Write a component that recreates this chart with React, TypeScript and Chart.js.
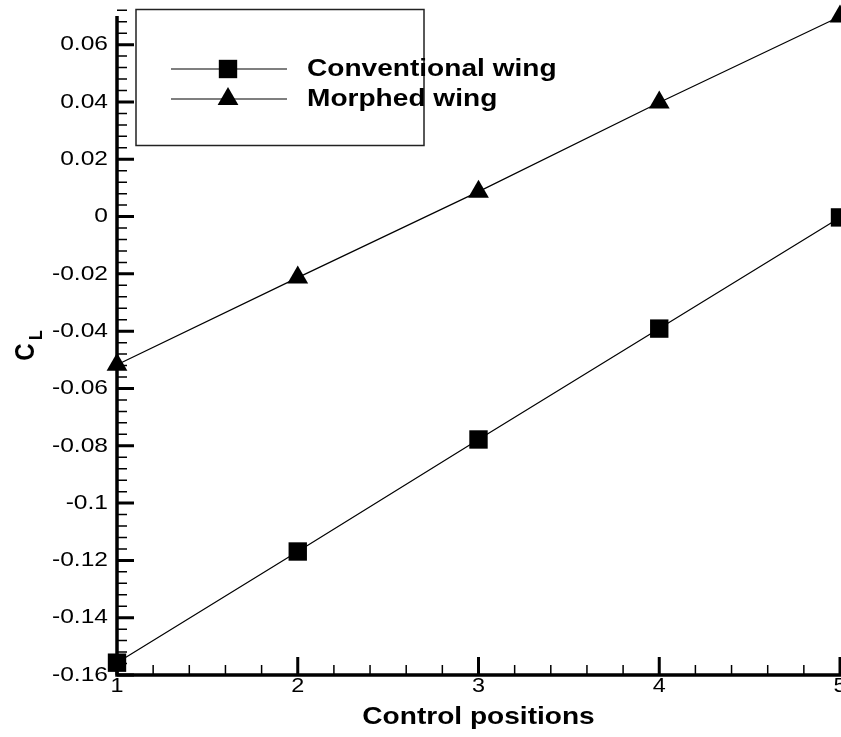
import React, { useEffect, useRef } from "react";
import { Chart, registerables } from "chart.js";

Chart.register(...registerables);

// ---- data ----
const positions = [1, 2, 3, 4, 5];
const conventionalWing = [-0.1557, -0.1169, -0.0778, -0.0391, -0.0003];
const morphedWing = [-0.0517, -0.0213, 0.0087, 0.0398, 0.0698];
const seriesLabels = ["Conventional wing", "Morphed wing"];
const xTickValues = [1, 2, 3, 4, 5];
const yTickValues = [-0.16, -0.14, -0.12, -0.1, -0.08, -0.06, -0.04, -0.02, 0, 0.02, 0.04, 0.06];
const xMinorStep = 0.2;
const yMinorStep = 0.004;
const xTitle = "Control positions";
const yTitleMain = "C";
const yTitleSub = "L";

const FONT = "'Liberation Sans', Arial, Helvetica, sans-serif";
const SX = 1.17; // horizontal text stretch seen in the reference

function fmtY(v: number) {
  return String(Number(v.toFixed(3)));
}

function drawMarker(ctx: CanvasRenderingContext2D, style: string, x: number, y: number, r: number) {
  ctx.beginPath();
  if (style === "rect") {
    const s = Math.SQRT1_2 * r;
    ctx.rect(x - s, y - s, 2 * s, 2 * s);
  } else {
    const w = r * Math.sin((2 * Math.PI) / 3);
    ctx.moveTo(x, y - r);
    ctx.lineTo(x + w, y + r / 2);
    ctx.lineTo(x - w, y + r / 2);
    ctx.closePath();
  }
  ctx.fill();
}

const axesPlugin = {
  id: "tecAxes",
  beforeDatasetsDraw(chart: any) {
    const { ctx, chartArea } = chart;
    const xs = chart.scales.x;
    const ys = chart.scales.y;
    const L = chartArea.left;
    const B = chartArea.bottom;
    const T = chartArea.top;
    const R = chartArea.right;
    ctx.save();
    ctx.strokeStyle = "#000";
    ctx.lineCap = "butt";

    // minor ticks
    ctx.lineWidth = 1.5;
    ctx.beginPath();
    const ny = Math.round((ys.max - ys.min) / yMinorStep);
    for (let i = 0; i <= ny; i++) {
      const v = ys.min + i * yMinorStep;
      if (yTickValues.some((t) => Math.abs(t - v) < 1e-6)) continue;
      const p = ys.getPixelForValue(v);
      ctx.moveTo(L, p);
      ctx.lineTo(L + 10, p);
    }
    const nx = Math.round((xs.max - xs.min) / xMinorStep);
    for (let i = 0; i <= nx; i++) {
      const v = xs.min + i * xMinorStep;
      if (xTickValues.some((t) => Math.abs(t - v) < 1e-6)) continue;
      const p = xs.getPixelForValue(v);
      ctx.moveTo(p, B);
      ctx.lineTo(p, B - 10);
    }
    ctx.stroke();

    // major ticks
    ctx.lineWidth = 3;
    ctx.beginPath();
    yTickValues.forEach((v) => {
      const p = ys.getPixelForValue(v);
      ctx.moveTo(L, p);
      ctx.lineTo(L + 17, p);
    });
    xTickValues.forEach((v) => {
      const p = xs.getPixelForValue(v);
      ctx.moveTo(p, B);
      ctx.lineTo(p, B - 18);
    });
    ctx.stroke();

    // axis lines
    ctx.lineWidth = 3.5;
    ctx.beginPath();
    ctx.moveTo(L, T);
    ctx.lineTo(L, B + 1.75);
    ctx.moveTo(L - 1.75, B);
    ctx.lineTo(R + 2, B);
    ctx.stroke();

    ctx.fillStyle = "#000";

    // tick labels
    ctx.font = `21px ${FONT}`;
    ctx.textBaseline = "middle";
    ctx.textAlign = "right";
    yTickValues.forEach((v) => {
      const p = ys.getPixelForValue(v);
      ctx.save();
      ctx.translate(L - 9, p);
      ctx.scale(SX, 1);
      ctx.fillText(fmtY(v), 0, 0);
      ctx.restore();
    });
    ctx.font = `20px ${FONT}`;
    ctx.textAlign = "center";
    xTickValues.forEach((v) => {
      const p = xs.getPixelForValue(v);
      ctx.save();
      ctx.translate(p, B + 11);
      ctx.scale(SX, 1);
      ctx.fillText(String(v), 0, 0);
      ctx.restore();
    });

    // x title
    ctx.font = `bold 24px ${FONT}`;
    ctx.save();
    ctx.translate((L + R) / 2, 717);
    ctx.scale(SX, 1);
    ctx.textAlign = "center";
    ctx.textBaseline = "middle";
    ctx.fillText(xTitle, 0, 0);
    ctx.restore();

    // y title C_L
    ctx.save();
    ctx.translate(34, 352);
    ctx.scale(SX, 1);
    ctx.rotate(-Math.PI / 2);
    ctx.textBaseline = "alphabetic";
    ctx.textAlign = "center";
    ctx.font = `bold 24px ${FONT}`;
    ctx.fillText(yTitleMain, 0, 0);
    ctx.textAlign = "left";
    ctx.font = `bold 16px ${FONT}`;
    ctx.fillText(yTitleSub, 12, 7);
    ctx.restore();

    ctx.restore();
  },
};

const legendPlugin = {
  id: "tecLegend",
  afterDatasetsDraw(chart: any) {
    const { ctx } = chart;
    ctx.save();
    ctx.fillStyle = "#fff";
    ctx.fillRect(136, 9.5, 288, 136);
    ctx.strokeStyle = "#222";
    ctx.lineWidth = 1.5;
    ctx.strokeRect(136, 9.5, 288, 136);
    const rows = [69, 99];
    chart.data.datasets.forEach((ds: any, i: number) => {
      const y = rows[i];
      ctx.strokeStyle = "#000";
      ctx.lineWidth = 1.2;
      ctx.beginPath();
      ctx.moveTo(171, y);
      ctx.lineTo(287, y);
      ctx.stroke();
      ctx.fillStyle = "#000";
      drawMarker(ctx, ds.pointStyle, 228, y, ds.pointRadius);
      ctx.save();
      ctx.translate(307, y);
      ctx.scale(SX, 1);
      ctx.font = `bold 24px ${FONT}`;
      ctx.textAlign = "left";
      ctx.textBaseline = "middle";
      ctx.fillText(ds.label, 0, 0);
      ctx.restore();
    });
    ctx.restore();
  },
};

export default function App() {
  const canvasRef = useRef<HTMLCanvasElement | null>(null);

  useEffect(() => {
    const canvas = canvasRef.current;
    if (!canvas) return;
    const chart = new Chart(canvas, {
      type: "line",
      data: {
        datasets: [
          {
            label: seriesLabels[0],
            data: positions.map((x, i) => ({ x, y: conventionalWing[i] })),
            borderColor: "#000",
            backgroundColor: "#000",
            borderWidth: 1.2,
            pointStyle: "rect",
            pointRadius: 13,
            pointBorderWidth: 0,
            pointBackgroundColor: "#000",
            tension: 0,
            clip: false,
          },
          {
            label: seriesLabels[1],
            data: positions.map((x, i) => ({ x, y: morphedWing[i] })),
            borderColor: "#000",
            backgroundColor: "#000",
            borderWidth: 1.2,
            pointStyle: "triangle",
            pointRadius: 12,
            pointBorderWidth: 0,
            pointBackgroundColor: "#000",
            tension: 0,
            clip: false,
          },
        ],
      } as any,
      options: {
        responsive: false,
        animation: false,
        devicePixelRatio: 1,
        events: [],
        layout: { autoPadding: false, padding: { top: 16, right: 1, left: 0, bottom: 0 } },
        plugins: { legend: { display: false }, tooltip: { enabled: false } },
        scales: {
          x: {
            type: "linear",
            min: 1,
            max: 5,
            grid: { display: false, drawTicks: false },
            border: { display: false },
            afterBuildTicks: (s: any) => {
              s.ticks = xTickValues.map((v) => ({ value: v }));
            },
            afterFit: (s: any) => {
              s.height = 62;
              s.paddingLeft = 0;
              s.paddingRight = 0;
            },
            ticks: { display: false },
          },
          y: {
            type: "linear",
            min: -0.16,
            max: 0.07,
            grid: { display: false, drawTicks: false },
            border: { display: false },
            afterBuildTicks: (s: any) => {
              s.ticks = yTickValues.map((v) => ({ value: v }));
            },
            afterFit: (s: any) => {
              s.width = 117;
              s.paddingTop = 0;
              s.paddingBottom = 0;
            },
            ticks: { display: false },
          },
        },
      } as any,
      plugins: [axesPlugin, legendPlugin],
    });
    return () => chart.destroy();
  }, []);

  return (
    <div style={{ position: "fixed", left: 0, top: 0, width: 841, height: 737, background: "#fff" }}>
      <canvas ref={canvasRef} width={841} height={737} style={{ display: "block" }} />
    </div>
  );
}
